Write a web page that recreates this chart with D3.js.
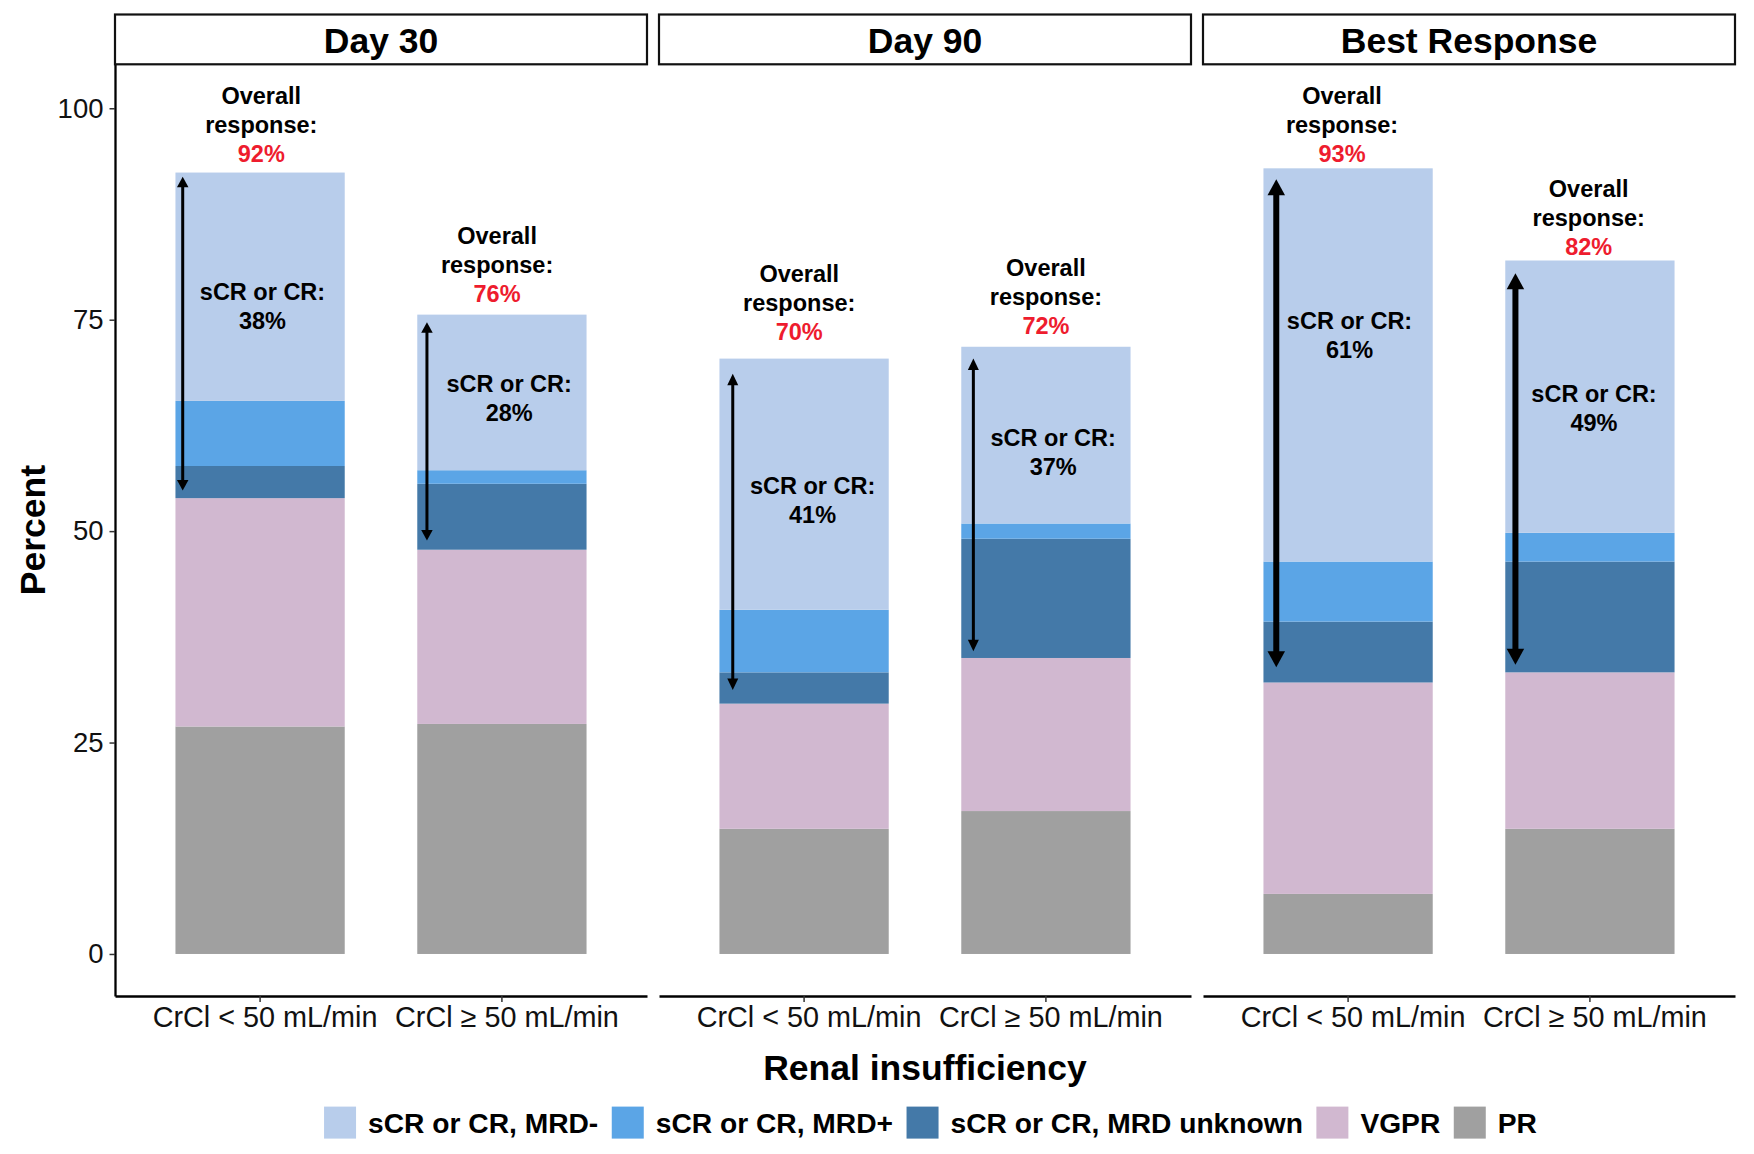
<!DOCTYPE html>
<html><head><meta charset="utf-8">
<script src="https://cdn.jsdelivr.net/npm/d3@7"></script>
<style>
body{margin:0;background:#fff}
text{font-family:"Liberation Sans",Arial,Helvetica,sans-serif}
</style>
</head><body>
<svg id="c" width="1754" height="1154"></svg>
<script>
// ---------- data ----------
const facets = ["Day 30", "Day 90", "Best Response"];
const groups = ["CrCl < 50 mL/min", "CrCl ≥ 50 mL/min"];
const responses = ["sCR or CR, MRD-", "sCR or CR, MRD+", "sCR or CR, MRD unknown", "VGPR", "PR"];
const responseColors = ["#b8cdeb", "#5ba5e6", "#4479a8", "#d1b8d0", "#a0a0a0"];
// bar order: Day30 <50, Day30 >=50, Day90 <50, Day90 >=50, Best <50, Best >=50
const valPR      = [26.9, 27.2, 14.8, 16.9, 7.1, 14.8];
const valVGPR    = [27.0, 20.6, 14.8, 18.1, 25.0, 18.5];
const valMRDunk  = [3.8, 7.8, 3.7, 14.1, 7.2, 13.1];
const valMRDpos  = [7.7, 1.6, 7.4, 1.8, 7.1, 3.4];
const valMRDneg  = [27.0, 18.4, 29.7, 20.9, 46.5, 32.2];
const overallLabels = ["92%", "76%", "70%", "72%", "93%", "82%"];
const overallLabelY = [93.6, 77.1, 72.6, 73.3, 93.6, 82.7];   // baseline of last line (percent units)
const overallLabelDx = [0.005, -0.02, -0.02, 0.0, -0.025, -0.005];
const crLabels = ["38%", "28%", "41%", "37%", "61%", "49%"];
const crLabelY = [76.6, 65.8, 53.7, 59.4, 73.2, 64.5];        // centre of two-line label
const crLabelDx = [0.01, 0.03, 0.035, 0.03, 0.006, 0.017];
const arrowTop    = [91.9, 74.7, 68.6, 70.4, 91.6, 80.5];
const arrowBottom = [54.8, 48.9, 31.2, 35.8, 33.9, 34.2];
const arrowDx     = [-0.32, -0.31, -0.295, -0.30, -0.297, -0.308];
const yTicks = [0, 25, 50, 75, 100];

// ---------- layout / style ----------
const W = 1754, H = 1154;
const panelX = [115, 659, 1203], panelW = 532;
const panelTop = 64.3, panelBottom = 996;
const stripTop = 14.5;
const arrowStyle = [
  {w: 3, hl: 10.5, hw: 11.5},
  {w: 3, hl: 11.5, hw: 11},
  {w: 6, hl: 16, hw: 17.5}
];
const FONT = '"Liberation Sans",Arial,Helvetica,sans-serif';

const keys = ["neg", "pos", "unk", "VGPR", "PR"]; // same order as responses
const rows = valPR.map((d, i) => ({
  facet: facets[Math.floor(i / 2)], group: groups[i % 2], idx: i,
  PR: valPR[i], VGPR: valVGPR[i], unk: valMRDunk[i], pos: valMRDpos[i], neg: valMRDneg[i]
}));
const stackKeys = ["PR", "VGPR", "unk", "pos", "neg"];
const series = d3.stack().keys(stackKeys)(rows);
const color = d3.scaleOrdinal().domain(keys).range(responseColors);

const svg = d3.select("#c");
svg.append("rect").attr("width", W).attr("height", H).attr("fill", "#fff");

const y = d3.scaleLinear().domain([-4.97, 105.2]).range([panelBottom, panelTop]);

facets.forEach((f, fi) => {
  const g = svg.append("g").attr("transform", `translate(${panelX[fi]},0)`);
  const x = d3.scaleBand().domain(groups).range([0, panelW]).paddingInner(0.3).paddingOuter(0.25);
  const step = x.step();
  const cx = gname => x(gname) + x.bandwidth() / 2;

  // bars
  series.forEach(s => {
    g.selectAll(null).data(s.filter(d => d.data.facet === f)).enter().append("rect")
      .attr("x", d => x(d.data.group))
      .attr("width", x.bandwidth())
      .attr("y", d => y(d[1]))
      .attr("height", d => y(d[0]) - y(d[1]))
      .attr("fill", color(s.key));
  });

  const fr = rows.filter(r => r.facet === f);

  // arrows
  const st = arrowStyle[fi];
  fr.forEach(r => {
    const ax = cx(r.group) + arrowDx[r.idx] * step;
    const yt = y(arrowTop[r.idx]), yb = y(arrowBottom[r.idx]);
    g.append("line").attr("x1", ax).attr("x2", ax)
      .attr("y1", yt + st.hl - 1).attr("y2", yb - st.hl + 1)
      .attr("stroke", "#000").attr("stroke-width", st.w);
    g.append("path").attr("d", `M${ax},${yt} L${ax - st.hw / 2},${yt + st.hl} L${ax + st.hw / 2},${yt + st.hl} Z`).attr("fill", "#000");
    g.append("path").attr("d", `M${ax},${yb} L${ax - st.hw / 2},${yb - st.hl} L${ax + st.hw / 2},${yb - st.hl} Z`).attr("fill", "#000");
  });

  // overall labels
  fr.forEach(r => {
    const tx = cx(r.group) + overallLabelDx[r.idx] * step;
    const by = y(overallLabelY[r.idx]);
    const t = g.append("text").attr("text-anchor", "middle")
      .attr("font-size", 23.5).attr("font-weight", "bold");
    t.append("tspan").attr("x", tx).attr("y", by - 58).attr("fill", "#000").text("Overall");
    t.append("tspan").attr("x", tx).attr("y", by - 29).attr("fill", "#000").text("response:");
    t.append("tspan").attr("x", tx).attr("y", by).attr("fill", "#ee1c2e").text(overallLabels[r.idx]);
  });

  // sCR labels
  fr.forEach(r => {
    const tx = cx(r.group) + crLabelDx[r.idx] * step;
    const my = y(crLabelY[r.idx]);
    const t = g.append("text").attr("text-anchor", "middle")
      .attr("font-size", 23.5).attr("font-weight", "bold").attr("fill", "#000");
    t.append("tspan").attr("x", tx).attr("y", my - 14.5 + 8.5).text("sCR or CR:");
    t.append("tspan").attr("x", tx).attr("y", my + 14.5 + 8.5).text(crLabels[r.idx]);
  });

  // x axis
  const xa = g.append("g").attr("transform", `translate(0,${panelBottom})`)
    .call(d3.axisBottom(x).tickSize(6).tickSizeOuter(0).tickPadding(5));
  xa.select(".domain").attr("stroke", "#000").attr("stroke-width", 2.3);
  xa.selectAll(".tick line").attr("stroke", "#333").attr("stroke-width", 1.5);
  xa.selectAll(".tick text").attr("font-size", 28.8).attr("font-family", FONT).attr("fill", "#111")
    .attr("dx", 5);

  // y axis only first panel
  if (fi === 0) {
    const ya = g.append("g")
      .call(d3.axisLeft(y).tickValues(yTicks).tickSize(5.5).tickSizeOuter(0).tickPadding(6).tickFormat(d3.format("d")));
    ya.select(".domain").attr("stroke", "#000").attr("stroke-width", 2.3);
    ya.selectAll(".tick line").attr("stroke", "#333").attr("stroke-width", 1.5);
    ya.selectAll(".tick text").attr("font-size", 27.5).attr("font-family", FONT).attr("fill", "#111");
  }

  // strip
  svg.append("rect").attr("x", panelX[fi]).attr("y", stripTop)
    .attr("width", panelW).attr("height", panelTop - stripTop)
    .attr("fill", "#fff").attr("stroke", "#111").attr("stroke-width", 2.2);
  svg.append("text").attr("x", panelX[fi] + panelW / 2).attr("y", 52.5)
    .attr("text-anchor", "middle").attr("font-size", 35.5).attr("font-weight", "bold")
    .attr("fill", "#000").text(f);
});

// axis titles
svg.append("text").attr("x", (panelX[0] + panelX[2] + panelW) / 2).attr("y", 1080)
  .attr("text-anchor", "middle").attr("font-size", 35.5).attr("font-weight", "bold").text("Renal insufficiency");
svg.append("text").attr("transform", `translate(44.5,${(panelTop + panelBottom) / 2}) rotate(-90)`)
  .attr("text-anchor", "middle").attr("font-size", 35.5).attr("font-weight", "bold").text("Percent");

// legend
const lg = svg.append("g");
let lx = 0;
responses.forEach((name, i) => {
  const it = lg.append("g").attr("transform", `translate(${lx},0)`);
  it.append("rect").attr("x", 0).attr("y", -16).attr("width", 32).attr("height", 32)
    .attr("fill", responseColors[i]);
  const t = it.append("text").attr("x", 44).attr("y", 10).attr("font-size", 28.2)
    .attr("font-weight", "bold").text(name);
  lx += 44 + t.node().getComputedTextLength() + 13.5;
});
const legendW = lx - 13.5;
lg.attr("transform", `translate(${930.5 - legendW / 2},1122.6)`);
</script>
</body></html>
